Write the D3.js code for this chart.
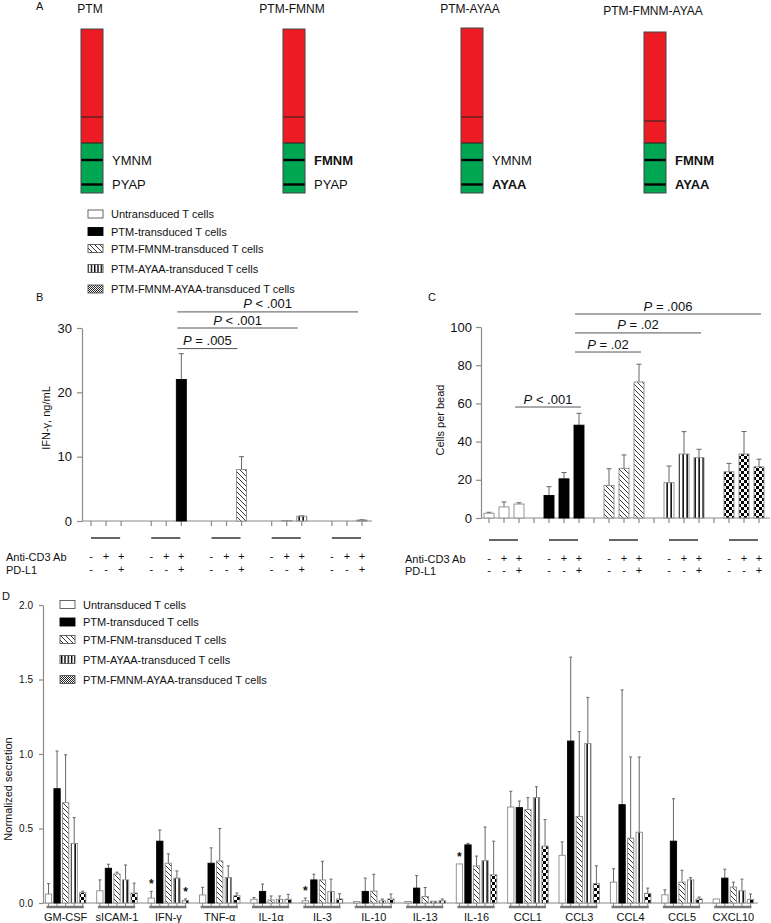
<!DOCTYPE html>
<html><head><meta charset="utf-8">
<script src="https://cdn.jsdelivr.net/npm/d3@7"></script>
<style>body{margin:0;background:#fff} svg{display:block} text{font-family:"Liberation Sans",Arial,sans-serif;fill:#111}</style>
</head><body><svg id="c" width="771" height="923"></svg>
<script>
// ---------------- DATA ----------------
const constructs = ["PTM", "PTM-FMNM", "PTM-AYAA", "PTM-FMNM-AYAA"];
const motifUpper = ["YMNM", "FMNM", "YMNM", "FMNM"];
const motifUpperMutated = [false, true, false, true];
const motifLower = ["PYAP", "PYAP", "AYAA", "AYAA"];
const motifLowerMutated = [false, false, true, true];

const legendA = ["Untransduced T cells", "PTM-transduced T cells", "PTM-FMNM-transduced T cells", "PTM-AYAA-transduced T cells", "PTM-FMNM-AYAA-transduced T cells"];
const legendD = ["Untransduced T cells", "PTM-transduced T cells", "PTM-FNM-transduced T cells", "PTM-AYAA-transduced T cells", "PTM-FMNM-AYAA-transduced T cells"];

const conditionRows = ["Anti-CD3 Ab", "PD-L1"];
const antiCD3 = ["-", "+", "+"];
const pdl1 = ["-", "-", "+"];

// Panel B: IFN-γ (ng/mL), rows = cell type, cols = condition
const ifngValues = [[0, 0, 0], [0, 0, 22], [0, 0, 8], [0, 0.05, 0.75], [0, 0, 0.15]];
const ifngErrTop = [[0, 0, 0], [0, 0, 26], [0, 0, 10], [0, 0, 0.8], [0, 0, 0.2]];
const ifngTicks = [0, 10, 20, 30];
const ifngPLabels = ["P = .005", "P < .001", "P < .001"];
const ifngPPairs = [[[1, 2], [2, 2]], [[1, 2], [3, 2]], [[1, 2], [4, 2]]];

// Panel C: cells per bead
const beadValues = [[2.5, 5.8, 7.3], [11.8, 20.5, 48.6], [17, 26, 71.2], [18.5, 33.5, 31.6], [24.2, 33.5, 26.8]];
const beadErrTop = [[3, 8.4, 8], [16.4, 23.8, 54.8], [25.8, 33, 80.5], [27.2, 45.2, 36], [28.6, 45.3, 30.8]];
const beadTicks = [0, 20, 40, 60, 80, 100];
const beadPLabels = ["P < .001", "P = .02", "P = .02", "P = .006"];
const beadPPairs = [[[0, 2], [1, 2]], [[1, 2], [2, 2]], [[1, 2], [3, 2]], [[1, 2], [4, 2]]];

// Panel D: normalized secretion
const cytokines = ["GM-CSF", "sICAM-1", "IFN-γ", "TNF-α", "IL-1α", "IL-3", "IL-10", "IL-13", "IL-16", "CCL1", "CCL3", "CCL4", "CCL5", "CXCL10"];
const secUntransduced = [0.06, 0.082, 0.033, 0.054, 0.025, 0.015, 0.01, 0.01, 0.262, 0.644, 0.32, 0.14, 0.055, 0.027];
const secPTM = [0.767, 0.233, 0.415, 0.267, 0.078, 0.155, 0.078, 0.1, 0.39, 0.64, 1.087, 0.66, 0.415, 0.167];
const secFMNM = [0.673, 0.195, 0.267, 0.282, 0.02, 0.155, 0.08, 0.044, 0.249, 0.627, 0.58, 0.435, 0.14, 0.107];
const secAYAA = [0.40, 0.155, 0.167, 0.171, 0.025, 0.078, 0.015, 0.012, 0.284, 0.707, 1.07, 0.475, 0.155, 0.082];
const secFMNMAYAA = [0.07, 0.067, 0.016, 0.049, 0.025, 0.027, 0.027, 0.015, 0.189, 0.382, 0.13, 0.065, 0.027, 0.024];
const errUntransduced = [0.13, 0.155, 0.078, 0.105, 0.037, 0.033, 0.01, 0.01, 0.262, 0.75, 0.41, 0.23, 0.088, 0.027];
const errPTM = [1.02, 0.26, 0.49, 0.37, 0.127, 0.193, 0.167, 0.184, 0.40, 0.684, 1.65, 1.43, 0.70, 0.227];
const errFMNM = [0.995, 0.207, 0.33, 0.5, 0.047, 0.28, 0.193, 0.104, 0.315, 0.707, 1.15, 0.98, 0.22, 0.14];
const errAYAA = [0.573, 0.255, 0.215, 0.249, 0.047, 0.16, 0.027, 0.012, 0.51, 0.78, 1.38, 0.98, 0.17, 0.16];
const errFMNMAYAA = [0.08, 0.133, 0.027, 0.067, 0.058, 0.062, 0.06, 0.027, 0.415, 0.56, 0.25, 0.10, 0.04, 0.06];
const secTicks = [0, 0.5, 1.0, 1.5, 2.0];
const secStars = [[2, 0], [2, 4], [5, 0], [8, 0]]; // [cytokine, series]

// ---------------- DRAWING ----------------
const svg = d3.select("#c");
const defs = svg.append("defs");
function pat(id, w, h, build) {
  const p = defs.append("pattern").attr("id", id).attr("patternUnits", "userSpaceOnUse").attr("width", w).attr("height", h);
  p.append("rect").attr("width", w).attr("height", h).attr("fill", "#fff");
  build(p);
}
pat("hatch", 5, 5, p => p.append("path").attr("d", "M0,0L5,5M-1,4L1,6M4,-1L6,1").attr("stroke", "#222").attr("stroke-width", 0.9));
pat("vstripe", 4, 4, p => p.append("rect").attr("x", 2.4).attr("width", 1.5).attr("height", 4).attr("fill", "#000"));
pat("checker", 6, 6, p => { p.append("rect").attr("width", 3).attr("height", 3).attr("fill", "#000"); p.append("rect").attr("x", 3).attr("y", 3).attr("width", 3).attr("height", 3).attr("fill", "#000"); });
pat("checkSmall", 2, 2, p => { p.append("rect").attr("width", 1).attr("height", 1).attr("fill", "#222"); p.append("rect").attr("x", 1).attr("y", 1).attr("width", 1).attr("height", 1).attr("fill", "#222"); });
pat("vstripeL", 3.3, 3, p => p.append("rect").attr("x", 1.6).attr("width", 1.4).attr("height", 3).attr("fill", "#000"));

const seriesFill = ["#fff", "#000", "url(#hatch)", "url(#vstripe)", "url(#checker)"];
const legendFill = ["#fff", "#000", "url(#hatch)", "url(#vstripeL)", "url(#checkSmall)"];
const seriesStroke = ["#8a8a8a", "#000", "#8a8a8a", "#8a8a8a", "#8a8a8a"];
const AX = "#8a8a8a";

function label(x, y, t, size, opts = {}) {
  const e = svg.append("text").attr("x", x).attr("y", y).attr("font-size", size).text(t);
  if (opts.anchor) e.attr("text-anchor", opts.anchor);
  if (opts.bold) e.attr("font-weight", "bold");
  return e;
}
function pLabel(g, x, y, t) {
  const e = g.append("text").attr("x", x).attr("y", y).attr("font-size", 13).attr("text-anchor", "middle");
  e.append("tspan").attr("font-style", "italic").text(t.slice(0, 1));
  e.append("tspan").text(t.slice(1));
}

// Panel labels
label(36, 10, "A", 11);
label(36, 301, "B", 11);
label(428, 301, "C", 11);
label(2, 600, "D", 11);

// ---------- Panel A ----------
const xA = d3.scaleOrdinal().domain(constructs).range([81, 283, 461, 644]);
const topA = d3.scaleOrdinal().domain(constructs).range([29, 29, 28, 32]);
const divA = d3.scaleOrdinal().domain(constructs).range([117, 117, 117, 121]);
const wA = 22, redEnd = 143, botA = 193, line1 = 160, line2 = 184.5;
const gA = svg.append("g");
constructs.forEach((c, i) => {
  const x = xA(c);
  gA.append("rect").attr("x", x).attr("y", topA(c)).attr("width", wA).attr("height", redEnd - topA(c)).attr("fill", "#ed1c24");
  gA.append("rect").attr("x", x).attr("y", redEnd).attr("width", wA).attr("height", botA - redEnd).attr("fill", "#00a651");
  gA.append("line").attr("x1", x).attr("x2", x + wA).attr("y1", divA(c)).attr("y2", divA(c)).attr("stroke", "#222").attr("stroke-width", 1);
  gA.append("line").attr("x1", x).attr("x2", x + wA).attr("y1", redEnd).attr("y2", redEnd).attr("stroke", "#222").attr("stroke-width", 1);
  [line1, line2].forEach(yy => gA.append("line").attr("x1", x).attr("x2", x + wA).attr("y1", yy).attr("y2", yy).attr("stroke", "#000").attr("stroke-width", 2.4));
  gA.append("rect").attr("x", x).attr("y", topA(c)).attr("width", wA).attr("height", botA - topA(c)).attr("fill", "none").attr("stroke", "#444").attr("stroke-width", 1);
  label(x + wA / 2 - 2, i === 3 ? 15 : 13, c, 12, { anchor: "middle" });
  label(x + wA + 9, 165, motifUpper[i], 13, { bold: motifUpperMutated[i] });
  label(x + wA + 9, 189, motifLower[i], 13, { bold: motifLowerMutated[i] });
});

// Legends
function legend(x0, rows, labels) {
  labels.forEach((t, i) => {
    svg.append("rect").attr("x", x0).attr("y", rows[i] - 4).attr("width", 15).attr("height", 8)
      .attr("fill", legendFill[i]).attr("stroke", i === 1 ? "#000" : "#555").attr("stroke-width", 0.9);
    label(x0 + 23, rows[i] + 4, t, 11);
  });
}
legend(88, [214, 231.5, 248.5, 268.5, 289], legendA);
legend(60, [604.5, 622, 639.5, 659.5, 679.5], legendD);

// Generic bar drawing
function drawBars(g, items, x, y, barW, capHalf) {
  const errs = items.filter(d => d.top > d.value + 1e-9);
  g.selectAll(null).data(errs).join("path")
    .attr("d", d => `M${x(d.slot)},${y(d.value)}V${y(d.top)}M${x(d.slot) - capHalf},${y(d.top)}H${x(d.slot) + capHalf}`)
    .attr("stroke", "#666").attr("stroke-width", 1).attr("fill", "none");
  g.selectAll(null).data(items.filter(d => d.value > 0)).join("rect")
    .attr("x", d => x(d.slot) - barW / 2).attr("width", barW)
    .attr("y", d => y(d.value)).attr("height", d => y(0) - y(d.value))
    .attr("fill", d => seriesFill[d.series]).attr("stroke", d => seriesStroke[d.series]).attr("stroke-width", 0.9);
}

// ---------- Panels B & C ----------
function groupedPanel(cfg) {
  const g = svg.append("g");
  const x = d3.scaleLinear().domain([0, 18]).range(cfg.slotRange);
  const y = d3.scaleLinear().domain(cfg.domain).range(cfg.yRange);
  const items = [];
  cfg.values.forEach((row, gi) => row.forEach((v, k) => items.push({ slot: gi * 4 + k, series: gi, value: v, top: cfg.errTop[gi][k] })));
  // y axis
  const ya = g.append("g").attr("transform", `translate(${cfg.axisX},0)`)
    .call(d3.axisLeft(y).tickValues(cfg.ticks).tickSize(5).tickSizeOuter(0).tickPadding(cfg.pad));
  ya.select(".domain").attr("stroke", AX).attr("stroke-width", 1.2);
  ya.selectAll(".tick line").attr("stroke", AX).attr("stroke-width", 1.2);
  ya.selectAll(".tick text").attr("font-size", 13).attr("fill", "#111").attr("font-family", '"Liberation Sans", Arial, sans-serif');
  // x axis line + ticks
  g.append("line").attr("x1", cfg.axisX).attr("x2", cfg.xEnd).attr("y1", y(0)).attr("y2", y(0)).attr("stroke", AX).attr("stroke-width", 1.2);
  const tickSlots = cfg.allTicks ? d3.range(19) : items.map(d => d.slot);
  g.selectAll(null).data(tickSlots).join("line")
    .attr("x1", d => x(d)).attr("x2", d => x(d)).attr("y1", y(0)).attr("y2", y(0) + 5).attr("stroke", AX).attr("stroke-width", 1.2);
  drawBars(g, items, x, y, 10, 2.5);
  // axis title
  g.append("text").attr("transform", `translate(${cfg.titleX},${cfg.titleY}) rotate(-90)`).attr("text-anchor", "middle").attr("font-size", 11).text(cfg.title);
  // group underlines and conditions
  cfg.values.forEach((row, gi) => {
    g.append("line").attr("x1", x(gi * 4)).attr("x2", x(gi * 4 + 2) - 1).attr("y1", cfg.underY).attr("y2", cfg.underY).attr("stroke", "#333").attr("stroke-width", 1.5);
    row.forEach((v, k) => {
      g.append("text").attr("x", x(gi * 4 + k)).attr("y", cfg.rowY[0]).attr("text-anchor", "middle").attr("font-size", 11).text(antiCD3[k]);
      g.append("text").attr("x", x(gi * 4 + k)).attr("y", cfg.rowY[1]).attr("text-anchor", "middle").attr("font-size", 11).text(pdl1[k]);
    });
  });
  conditionRows.forEach((t, i) => g.append("text").attr("x", cfg.rowLabelX).attr("y", cfg.rowY[i] + 1).attr("font-size", 11).text(t));
  // p-value brackets
  cfg.pairs.forEach((p, i) => {
    const s1 = p[0][0] * 4 + p[0][1], s2 = p[1][0] * 4 + p[1][1];
    const x1 = x(s1) - 4, x2 = x(s2) + cfg.pEndOff;
    const yy = y(cfg.pLevels[i]);
    g.append("line").attr("x1", x1).attr("x2", x2).attr("y1", yy).attr("y2", yy).attr("stroke", "#555").attr("stroke-width", 1);
    pLabel(g, (x1 + x2) / 2, yy - 3.5, cfg.pLabels[i]);
  });
}

groupedPanel({
  values: ifngValues, errTop: ifngErrTop, ticks: ifngTicks, domain: [0, 30], yRange: [521, 328],
  slotRange: [91, 362], axisX: 82, xEnd: 372, pad: 5, allTicks: false,
  title: "IFN-γ, ng/mL", titleX: 50, titleY: 418, underY: 538, rowY: [560, 573], rowLabelX: 6,
  pairs: ifngPPairs, pLabels: ifngPLabels, pLevels: [26.8, 30, 32.5], pEndOff: -4
});
groupedPanel({
  values: beadValues, errTop: beadErrTop, ticks: beadTicks, domain: [0, 100], yRange: [518, 327],
  slotRange: [489, 759], axisX: 481, xEnd: 770, pad: 4, allTicks: true,
  title: "Cells per bead", titleX: 444, titleY: 420, underY: 540, rowY: [562, 574], rowLabelX: 405,
  pairs: beadPPairs, pLabels: beadPLabels, pLevels: [58.1, 86.9, 96.9, 106.8], pEndOff: 2
});

// ---------- Panel D ----------
(function () {
  const g = svg.append("g");
  const x = d3.scaleLinear().domain([0, 82]).range([48.5, 750.5]);
  const y = d3.scaleLinear().domain([0, 2]).range([903, 605]);
  const vals = [secUntransduced, secPTM, secFMNM, secAYAA, secFMNMAYAA];
  const tops = [errUntransduced, errPTM, errFMNM, errAYAA, errFMNMAYAA];
  const items = [];
  cytokines.forEach((c, ci) => vals.forEach((arr, s) => items.push({ slot: ci * 6 + s, series: s, value: arr[ci], top: tops[s][ci] })));
  const ya = g.append("g").attr("transform", "translate(43,0)")
    .call(d3.axisLeft(y).tickValues(secTicks).tickFormat(d3.format(".1f")).tickSize(4).tickSizeOuter(0).tickPadding(6));
  ya.select(".domain").attr("stroke", AX).attr("stroke-width", 1.2);
  ya.selectAll(".tick line").attr("stroke", AX).attr("stroke-width", 1.2);
  ya.selectAll(".tick text").attr("font-size", 10).attr("fill", "#111").attr("font-family", '"Liberation Sans", Arial, sans-serif');
  g.append("line").attr("x1", 43).attr("x2", 758).attr("y1", y(0)).attr("y2", y(0)).attr("stroke", AX).attr("stroke-width", 1.2);
  g.selectAll(null).data(items).join("line")
    .attr("x1", d => x(d.slot)).attr("x2", d => x(d.slot)).attr("y1", y(0)).attr("y2", y(0) + 4).attr("stroke", AX).attr("stroke-width", 1);
  drawBars(g, items, x, y, 6.3, 1.5);
  cytokines.forEach((c, ci) => {
    g.append("line").attr("x1", x(ci * 6) - 2).attr("x2", x(ci * 6 + 4) + 1).attr("y1", 907).attr("y2", 907).attr("stroke", "#777").attr("stroke-width", 2.5);
    g.append("text").attr("x", x(ci * 6 + 2)).attr("y", 921).attr("text-anchor", "middle").attr("font-size", 11).text(c);
  });
  secStars.forEach(([ci, s]) => {
    const top = Math.max(vals[s][ci], tops[s][ci]);
    g.append("text").attr("x", x(ci * 6 + s)).attr("y", y(top) - 3).attr("text-anchor", "middle").attr("font-size", 12).attr("font-weight", "bold").text("*");
  });
  g.append("text").attr("transform", "translate(12,789) rotate(-90)").attr("text-anchor", "middle").attr("font-size", 11).text("Normalized secretion");
})();
</script>
</body></html>
